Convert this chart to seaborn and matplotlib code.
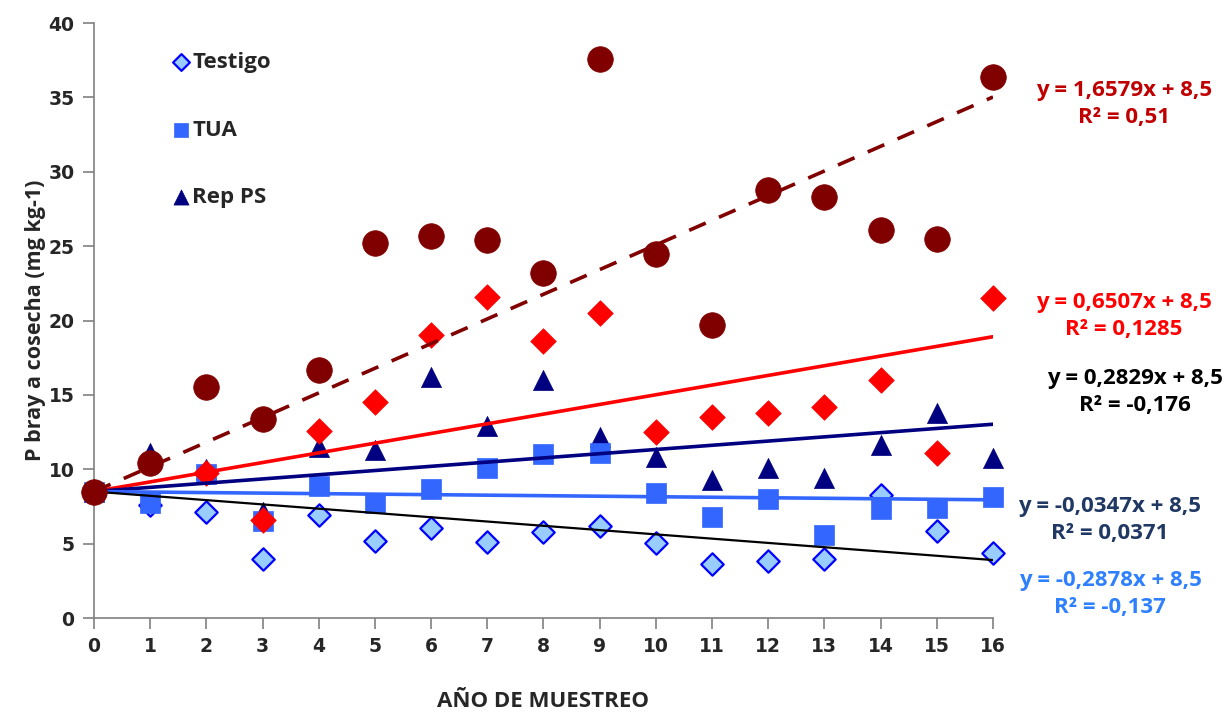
import numpy as np
import pandas as pd
import matplotlib
matplotlib.use("Agg")
import matplotlib.pyplot as plt
import seaborn as sns

## Data
years = list(range(17))
testigo = [8.5, 7.6, 7.1, 4.0, 6.9, 5.2, 6.05, 5.1, 5.8, 6.2, 5.05, 3.6, 3.8, 4.0, 8.3, 5.85, 4.35]
tua = [8.5, 7.7, 9.7, 6.5, 8.9, 7.7, 8.7, 10.1, 11.0, 11.1, 8.4, 6.8, 8.0, 5.6, 7.3, 7.4, 8.15]
rep_ps = [8.5, 11.1, 10.0, 7.1, 11.5, 11.3, 16.2, 12.9, 16.0, 12.2, 10.8, 9.3, 10.1, 9.4, 11.6, 13.8, 10.75]
serie_rojo = [8.5, np.nan, 9.75, 6.6, 12.6, 14.5, 19.0, 21.6, 18.6, 20.5, 12.5, 13.5, 13.8, 14.2, 16.0, 11.1, 21.5]
serie_granate = [8.5, 10.4, 15.5, 13.4, 16.7, 25.2, 25.7, 25.4, 23.2, 37.6, 24.5, 19.7, 28.8, 28.3, 26.1, 25.5, 36.4]

# trend lines (from the chart's equations)
slopes = [1.6579, 0.6507, 0.2829, -0.0347, -0.2878]
intercept = 8.5
line_colors = ["#800000", "#FF0000", "#000080", "#3366FF", "#000000"]
line_styles = [(0, (5, 4)), "-", "-", "-", "-"]
line_widths = [2.6, 2.6, 2.6, 2.6, 1.6]

eq_labels = ["y = 1,6579x + 8,5\nR² = 0,51",
             "y = 0,6507x + 8,5\nR² = 0,1285",
             "y = 0,2829x + 8,5\nR² = -0,176",
             "y = -0,0347x + 8,5\nR² = 0,0371",
             "y = -0,2878x + 8,5\nR² = -0,137"]
eq_colors = ["#C00000", "#FF0000", "#000000", "#1F3864", "#2F80FF"]

df = pd.DataFrame({"year": years, "Testigo": testigo, "TUA": tua, "Rep PS": rep_ps,
                   "rojo": serie_rojo, "granate": serie_granate})

sns.set_style("ticks")
plt.rcParams['font.family'] = ['Open Sans', 'DejaVu Sans']

W, H = 1231, 713
fig = plt.figure(figsize=(W / 100, H / 100), dpi=100)
ax = fig.add_axes([94 / W, 1 - 618 / H, (993 - 94) / W, (618 - 23) / H])

sns.scatterplot(data=df, x="year", y="Testigo", ax=ax, marker="D", s=130, color="#99CCFF",
                edgecolor="#0000FF", linewidth=1.6, label="Testigo", zorder=3, clip_on=False)
sns.scatterplot(data=df, x="year", y="Rep PS", ax=ax, marker="^", s=210, color="#000080",
                edgecolor="#000080", linewidth=0.5, label="Rep PS", zorder=3, clip_on=False)
sns.scatterplot(data=df, x="year", y="TUA", ax=ax, marker="s", s=200, color="#3366FF",
                edgecolor="#3366FF", linewidth=0.5, label="TUA", zorder=3, clip_on=False)
sns.scatterplot(data=df, x="year", y="rojo", ax=ax, marker="D", s=170, color="#FF0000",
                edgecolor="#FF0000", linewidth=0.5, zorder=3, clip_on=False)

# trend lines
x_line = np.array([years[0], years[-1]])
for m, c, ls, lw in zip(slopes, line_colors, line_styles, line_widths):
    ax.plot(x_line, intercept + m * x_line, color=c, linestyle=ls, linewidth=lw, zorder=4)

sns.scatterplot(data=df, x="year", y="granate", ax=ax, marker="o", s=340, color="#800000",
                edgecolor="#800000", linewidth=0.5, zorder=5, clip_on=False)

ax.set_xlim(0, 16)
ax.set_ylim(0, 40)
ax.set_xticks(years)
ax.set_yticks(range(0, 41, 5))
for lab in ax.get_xticklabels() + ax.get_yticklabels():
    lab.set_fontfamily("DejaVu Sans")
    lab.set_fontweight("bold")
    lab.set_fontsize(13.5)
ax.tick_params(axis="both", direction="out", length=8, width=1.2, color="#808080", pad=6)
for side in ["left", "bottom"]:
    ax.spines[side].set_color("#808080")
    ax.spines[side].set_linewidth(1.2)
sns.despine(ax=ax)

ax.set_xlabel("AÑO DE MUESTREO", fontsize=16, fontweight="bold", labelpad=25)
ax.set_ylabel("P bray a cosecha (mg kg-1)", fontsize=15.5, fontweight="bold", labelpad=2)

# legend (only the first three series)
handles, labels = ax.get_legend_handles_labels()
order = [labels.index(n) for n in ["Testigo", "TUA", "Rep PS"]]
leg = ax.legend([handles[i] for i in order], [labels[i] for i in order],
                loc="upper left", bbox_to_anchor=(0.055, 0.985), frameon=False,
                labelspacing=2.1, handletextpad=-0.3, handlelength=1.6, markerscale=0.75,
                prop={"weight": "bold", "size": 16})

# equations on the right
eq_pos = [(1124, 104), (1124, 316), (1135, 392), (1110, 520), (1110, 594)]
for (px, py), txt, c in zip(eq_pos, eq_labels, eq_colors):
    fig.text(px / W, 1 - py / H, txt, color=c, fontsize=16, fontweight="bold",
             ha="center", va="center", linespacing=1.4)

fig.savefig("out.png", dpi=100)
